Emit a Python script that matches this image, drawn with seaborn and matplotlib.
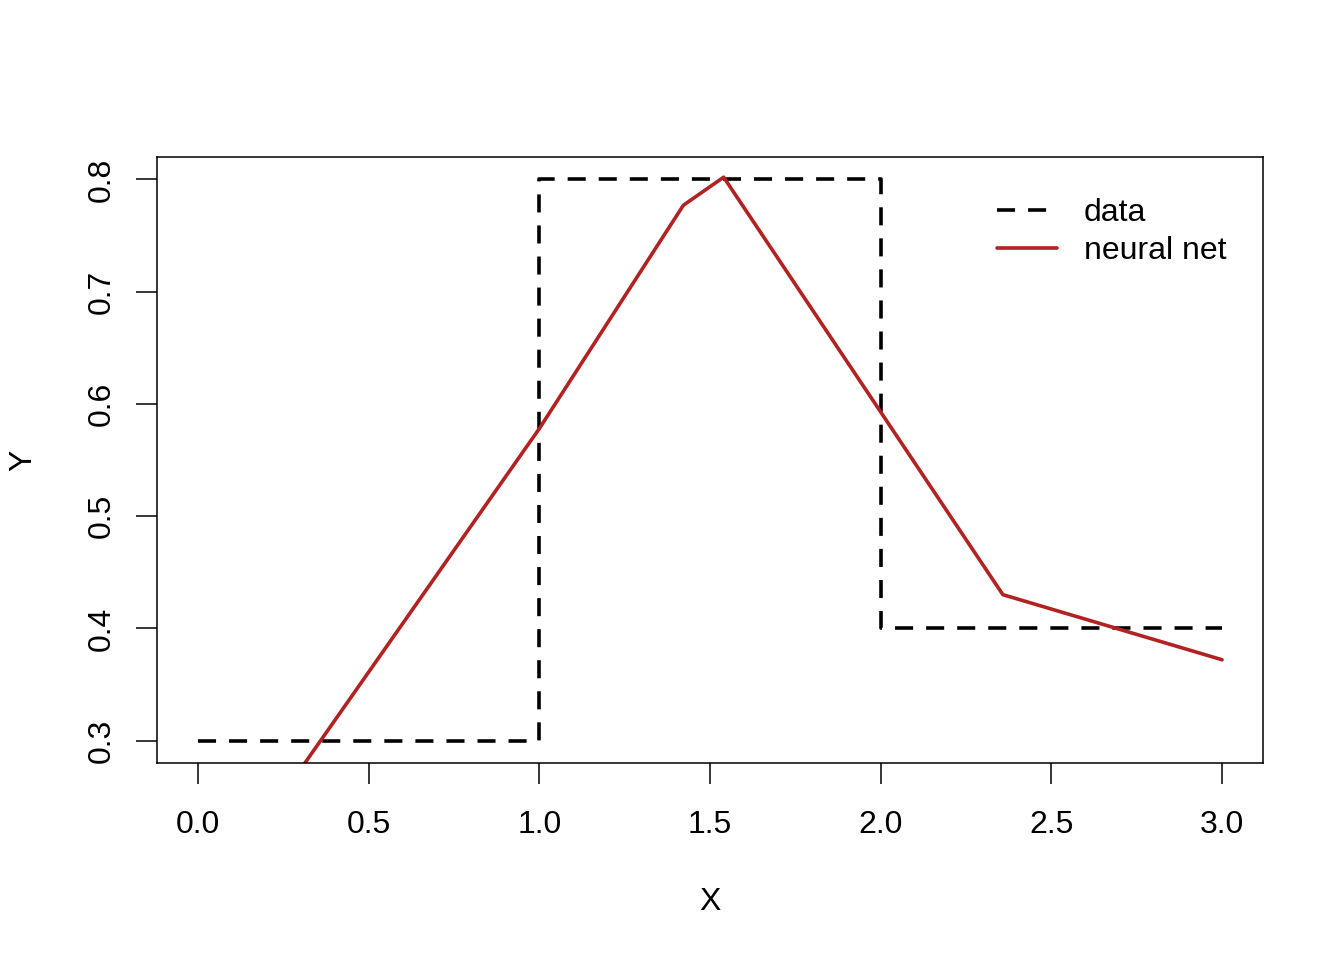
import matplotlib
matplotlib.use("Agg")
import matplotlib.pyplot as plt
import seaborn as sns
import pandas as pd

# data (step function)
data_x = [0.0, 1.0, 1.0, 2.0, 2.0, 3.0]
data_y = [0.3, 0.3, 0.8, 0.8, 0.4, 0.4]

# neural net fit (piecewise linear)
nn_x = [0.0, 1.0, 1.422, 1.540, 2.358, 3.0]
nn_y = [0.144, 0.578, 0.777, 0.802, 0.430, 0.372]

x_ticks = [0.0, 0.5, 1.0, 1.5, 2.0, 2.5, 3.0]
y_ticks = [0.3, 0.4, 0.5, 0.6, 0.7, 0.8]

sns.set_style("white")
plt.rcParams['font.family'] = ['Liberation Sans', 'DejaVu Sans']
plt.rcParams['text.color'] = 'black'
plt.rcParams['axes.labelcolor'] = 'black'
plt.rcParams['xtick.color'] = 'black'
plt.rcParams['ytick.color'] = 'black'

fig = plt.figure(figsize=(13.44, 9.6), dpi=100)
ax = fig.add_axes([157/1344, 1-763/960, (1263-157)/1344, (763-157)/960])

df_data = pd.DataFrame({"X": data_x, "Y": data_y})
df_nn = pd.DataFrame({"X": nn_x, "Y": nn_y})

sns.lineplot(data=df_data, x="X", y="Y", sort=False, estimator=None, ax=ax,
             color="black", linewidth=2.6, dashes=False, label="data")
ax.lines[-1].set_dashes((5, 3.6))
sns.lineplot(data=df_nn, x="X", y="Y", sort=False, estimator=None, ax=ax,
             color="#B22222", linewidth=2.6, label="neural net")

ax.set_xlim(-0.12, 3.12)
ax.set_ylim(0.28, 0.82)
ax.set_xticks(x_ticks)
ax.set_xticklabels([f"{v:.1f}" for v in x_ticks])
ax.set_yticks(y_ticks)
ax.set_yticklabels([f"{v:.1f}" for v in y_ticks], rotation=90, va="center")

for s in ax.spines.values():
    s.set_color("black")
    s.set_linewidth(1.1)

ax.tick_params(axis="x", direction="out", length=15, width=1.1, color="black",
               labelsize=23, pad=19, bottom=True, labelcolor="black")
ax.tick_params(axis="y", direction="out", length=15, width=1.1, color="black",
               labelsize=23, pad=14, left=True, labelcolor="black")
ax.set_xlabel("X", fontsize=23, labelpad=34, color="black")
ax.set_ylabel("Y", fontsize=23, labelpad=35, color="black")

leg = ax.legend(loc="upper right", frameon=False, fontsize=23, handlelength=1.875,
                handletextpad=0.84, bbox_to_anchor=(0.993, 0.98), labelspacing=0.26)
for t in leg.get_texts():
    t.set_color("black")

fig.savefig("out.png", dpi=100)
